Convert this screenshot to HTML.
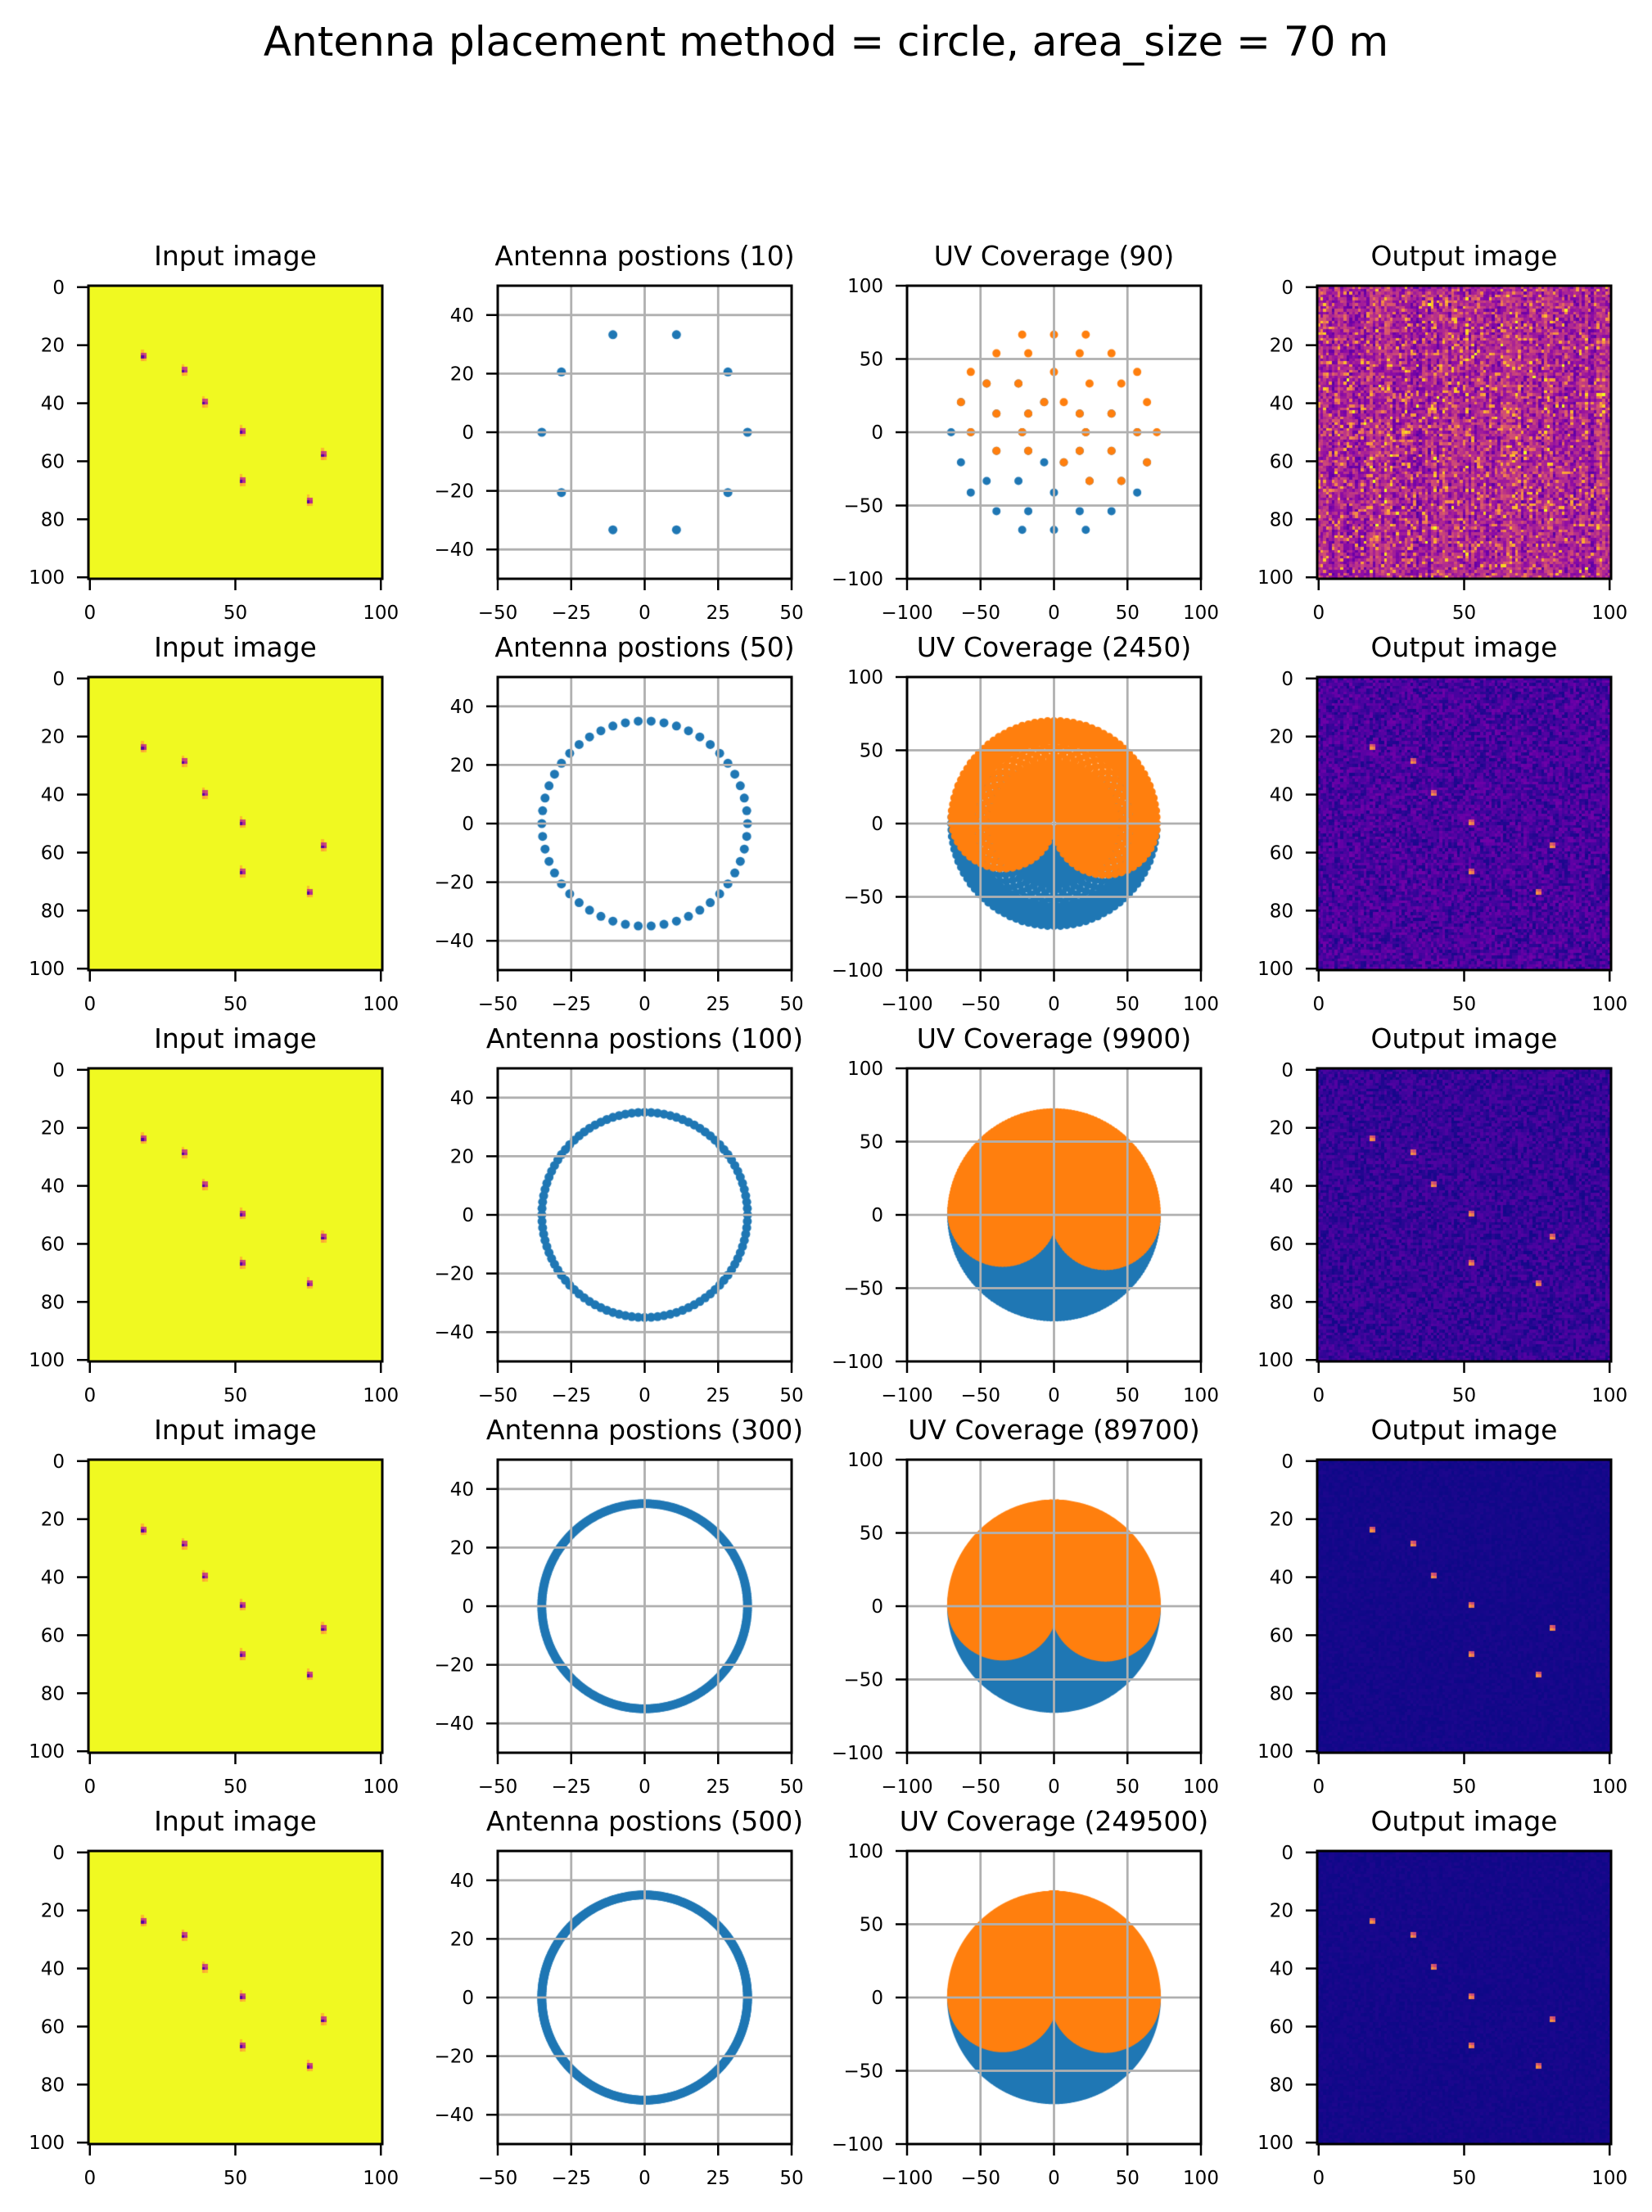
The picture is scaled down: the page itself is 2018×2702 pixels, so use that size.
<!DOCTYPE html>
<html><head><meta charset="utf-8">
<style>
html,body{margin:0;padding:0;background:#fff;}
#wrap{position:relative;width:2018px;height:2702px;overflow:hidden;}
canvas,svg{position:absolute;left:0;top:0;}
text{font-family:"DejaVu Sans","Liberation Sans",sans-serif;fill:#000;}
</style></head>
<body>
<div id="wrap">
<canvas id="cv" width="2018" height="2702"></canvas>
<svg id="sv" width="2018" height="2702" xmlns="http://www.w3.org/2000/svg">
<text x="1009" y="68" text-anchor="middle" font-size="50">Antenna placement method = circle, area_size = 70 m</text>
</svg>
</div>
<script>
// ---- data ----
const antennaCounts = [10, 50, 100, 300, 500];
const circleRadius = 35;
const sourceX = [18, 32, 39, 52, 80, 52, 75];
const sourceY = [24, 29, 40, 50, 58, 67, 74];
const outputNoise = [0.3, 0.2, 0.14, 0.03, 0.03];
const outputBase = [0.22, 0.02, 0.01, 0.0, 0.0];
const sourcePeak = [0.0, 0.75, 0.75, 0.75, 0.75];
const imgTicksX = [0, 50, 100];
const imgTicksY = [0, 20, 40, 60, 80, 100];
const antTicksX = [-50, -25, 0, 25, 50];
const antTicksY = [-40, -20, 0, 20, 40];
const uvTicks = [-100, -50, 0, 50, 100];

// ---- layout ----
const colLeft = [108, 608, 1108, 1609];
const rowTop = [349, 827, 1305, 1783, 2261];
const W = 359, H = 358;
const cv = document.getElementById('cv');
const ctx = cv.getContext('2d');
const sv = document.getElementById('sv');
const NS = 'http://www.w3.org/2000/svg';
function mk(tag, attrs, parent) {
  const e = document.createElementNS(NS, tag);
  for (const k in attrs) e.setAttribute(k, attrs[k]);
  (parent || sv).appendChild(e);
  return e;
}
const stops = ['#0d0887','#41049d','#6a00a8','#8f0da4','#b12a90','#cc4778','#e16462','#f2844b','#fca636','#fcce25','#f0f921'].map(h => [parseInt(h.substr(1,2),16),parseInt(h.substr(3,2),16),parseInt(h.substr(5,2),16)]);
function plasma(v) {
  v = Math.max(0, Math.min(1, v)) * 10;
  const i = Math.min(9, Math.floor(v)), f = v - i;
  return stops[i].map((c, k) => Math.round(c + (stops[i+1][k] - c) * f));
}
function hash(a, b, s) {
  let h = (a * 374761393 + b * 668265263 + s * 982451653) | 0;
  h = (h ^ (h >>> 13)) * 1274126177 | 0;
  h = h ^ (h >>> 16);
  return ((h >>> 0) % 10000) / 10000;
}
function fmt(v) { return v < 0 ? '\u2212' + (-v) : '' + v; }

function axesFrame(x0, y0, name) {
  const r = mk('rect', {x: x0, y: y0, width: W, height: H, fill: 'none', stroke: '#000', 'stroke-width': 3});
  
  
}
function title(x0, y0, t, name) {
  const e = mk('text', {x: x0 + W / 2, y: y0 - 25, 'text-anchor': 'middle', 'font-size': 33});
  e.textContent = t;
  
  
}
function ticks(x0, y0, xt, yt, sx, sy, name, grid) {
  xt.forEach(v => {
    const px = sx(v);
    if (grid) {
      const g = mk('line', {x1: px, x2: px, y1: y0, y2: y0 + H, stroke: '#b0b0b0', 'stroke-width': 2.8});
      
      
    }
    const l = mk('line', {x1: px, x2: px, y1: y0 + H, y2: y0 + H + 14, stroke: '#000', 'stroke-width': 2.5});
    
    
    const t = mk('text', {x: px, y: y0 + H + 49, 'text-anchor': 'middle', 'font-size': 23});
    t.textContent = fmt(v);
    
    
  });
  yt.forEach(v => {
    const py = sy(v);
    if (grid) {
      const g = mk('line', {x1: x0, x2: x0 + W, y1: py, y2: py, stroke: '#b0b0b0', 'stroke-width': 2.8});
      
      
    }
    const l = mk('line', {x1: x0 - 14, x2: x0, y1: py, y2: py, stroke: '#000', 'stroke-width': 2.5});
    
    
    const t = mk('text', {x: x0 - 29, y: py + 8, 'text-anchor': 'end', 'font-size': 23});
    t.textContent = fmt(v);
    
    
  });
}
function drawImage(x0, y0, vals) {
  const off = document.createElement('canvas');
  off.width = 101; off.height = 101;
  const oc = off.getContext('2d');
  const id = oc.createImageData(101, 101);
  for (let i = 0; i < 101 * 101; i++) {
    const c = plasma(vals[i]);
    id.data[i*4] = c[0]; id.data[i*4+1] = c[1]; id.data[i*4+2] = c[2]; id.data[i*4+3] = 255;
  }
  oc.putImageData(id, 0, 0);
  ctx.imageSmoothingEnabled = false;
  ctx.drawImage(off, x0, y0, W, H);
}

antennaCounts.forEach((N, r) => {
  const y0 = rowTop[r];
  // ---- input image ----
  {
    const x0 = colLeft[0];
    const vals = new Array(101 * 101).fill(1);
    sourceX.forEach((sx, k) => {
      const sy = sourceY[k];
      const set = (x, y, v) => { if (x >= 0 && x < 101 && y >= 0 && y < 101) vals[y * 101 + x] = Math.min(vals[y*101+x], v); };
      set(sx, sy, 0.15); set(sx + 1, sy, 0.4); set(sx, sy - 1, 0.45); set(sx + 1, sy - 1, 0.5);
      set(sx, sy + 1, 0.8); set(sx + 1, sy + 1, 0.85); set(sx, sy - 2, 0.85);
    });
    drawImage(x0, y0, vals);
    const sx = v => x0 + (v + 0.5) / 101 * W, sy = v => y0 + (v + 0.5) / 101 * H;
    title(x0, y0, 'Input image', 'input-image-' + (r + 1));
    ticks(x0, y0, imgTicksX, imgTicksY, sx, sy, 'input-image-' + (r + 1), false);
    axesFrame(x0, y0, 'input-image-' + (r + 1));
  }
  // antenna positions
  const ax = [], ay = [];
  for (let k = 0; k < N; k++) {
    const th = 2 * Math.PI * k / N;
    ax.push(circleRadius * Math.cos(th)); ay.push(circleRadius * Math.sin(th));
  }
  // ---- antenna plot ----
  {
    const x0 = colLeft[1];
    const sx = v => x0 + (v + 50) / 100 * W, sy = v => y0 + (50 - v) / 100 * H;
    ctx.save(); ctx.beginPath(); ctx.rect(x0, y0, W, H); ctx.clip();
    ctx.fillStyle = '#1f77b4';
    for (let k = 0; k < N; k++) {
      ctx.beginPath(); ctx.arc(sx(ax[k]), sy(ay[k]), 5.5, 0, 2 * Math.PI); ctx.fill();
    }
    ctx.restore();
    title(x0, y0, 'Antenna postions (' + N + ')', 'antenna-positions-' + (r + 1));
    ticks(x0, y0, antTicksX, antTicksY, sx, sy, 'antenna-positions-' + (r + 1), true);
    axesFrame(x0, y0, 'antenna-positions-' + (r + 1));
  }
  // ---- uv coverage ----
  {
    const x0 = colLeft[2];
    const sx = v => x0 + (v + 100) / 200 * W, sy = v => y0 + (100 - v) / 200 * H;
    ctx.save(); ctx.beginPath(); ctx.rect(x0, y0, W, H); ctx.clip();
    const rad = 5;
    ['#1f77b4', '#ff7f0e'].forEach((col, s) => {
      ctx.fillStyle = col;
      ctx.beginPath();
      for (let i = 0; i < N; i++) for (let j = i + 1; j < N; j++) {
        const sgn = s === 0 ? -1 : 1;
        const u = sgn * (ax[i] - ax[j]), v = sgn * (ay[i] - ay[j]);
        const px = sx(u), py = sy(v);
        ctx.moveTo(px + rad, py); ctx.arc(px, py, rad, 0, 2 * Math.PI);
      }
      ctx.fill();
    });
    ctx.restore();
    title(x0, y0, 'UV Coverage (' + (N * (N - 1)) + ')', 'uv-coverage-' + (r + 1));
    ticks(x0, y0, uvTicks, uvTicks, sx, sy, 'uv-coverage-' + (r + 1), true);
    axesFrame(x0, y0, 'uv-coverage-' + (r + 1));
  }
  // ---- output image ----
  {
    const x0 = colLeft[3];
    const vals = new Array(101 * 101);
    for (let y = 0; y < 101; y++) for (let x = 0; x < 101; x++) {
      let v = outputBase[r] + outputNoise[r] * hash(x, y, r + 1);
      if (r === 0) {
        v += 0.18 * (hash(x, 999, 7) - 0.5);
        if (hash(x, y, 55) > 0.9) v += 0.35;
        if (hash(x, y, 77) > 0.97) v += 0.35;
      }
      vals[y * 101 + x] = v;
    }
    if (sourcePeak[r] > 0) sourceX.forEach((sxp, k) => {
      const syp = sourceY[k];
      [[0,0],[1,0],[0,-1],[1,-1]].forEach((d, q) => {
        const xx = sxp + d[0], yy = syp + d[1];
        vals[yy * 101 + xx] = Math.max(vals[yy*101+xx], sourcePeak[r] - 0.08 * q);
      });
    });
    drawImage(x0, y0, vals);
    const sx = v => x0 + (v + 0.5) / 101 * W, sy = v => y0 + (v + 0.5) / 101 * H;
    title(x0, y0, 'Output image', 'output-image-' + (r + 1));
    ticks(x0, y0, imgTicksX, imgTicksY, sx, sy, 'output-image-' + (r + 1), false);
    axesFrame(x0, y0, 'output-image-' + (r + 1));
  }
});
</script>
</body></html>
